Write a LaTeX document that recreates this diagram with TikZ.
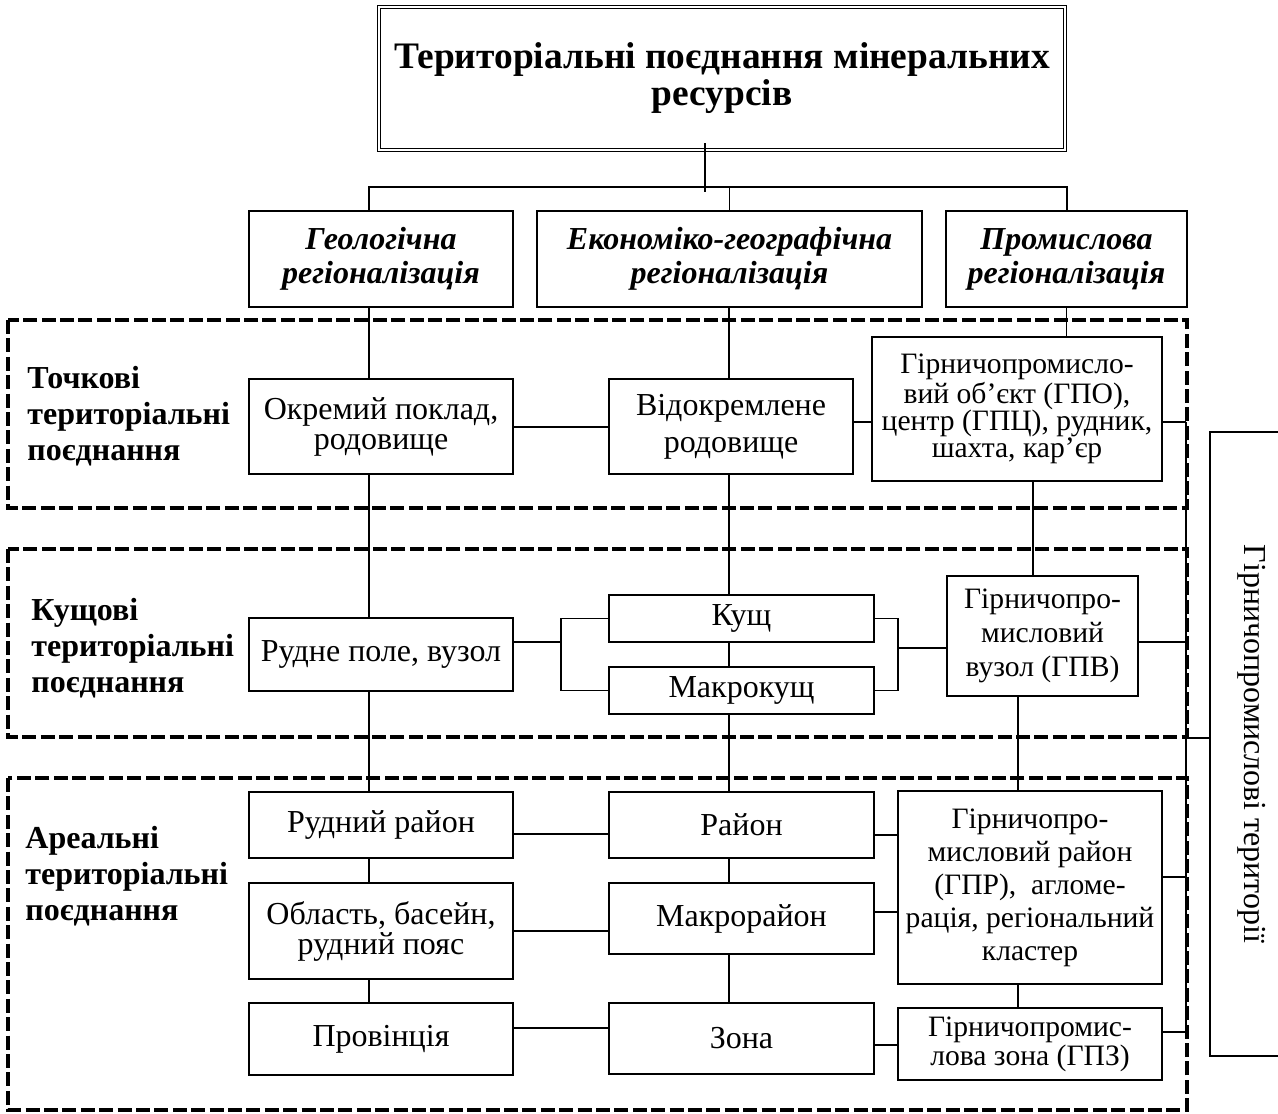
\documentclass[tikz,border=0pt]{standalone}
\usepackage{fontspec}
\setmainfont{Liberation Serif}
\tikzset{
	basenode/.style = {
		align=center,
		inner sep=0pt,
		text centered,
		draw=black,
		fill=white,
		line width=0.6pt
	},
	node_box/.style = {
		basenode,
		font=\fontsize{16}{15}\selectfont
	},
	node_ind/.style = {
		basenode,
		font=\fontsize{14.8}{15}\selectfont
	},
	node_head/.style = {
		basenode,
		font=\fontsize{16}{17}\selectfont\bfseries\itshape
	},
	node_title/.style = {
		basenode,
		double,
		double distance=1.2pt,
		font=\fontsize{18.7}{18.5}\selectfont\bfseries
	},
	node_label/.style = {
		align=left,
		inner sep=0pt,
		anchor=west,
		font=\fontsize{16}{18}\selectfont\bfseries
	},
	group_dash/.style = {
		line width=1.6pt,
		dash pattern=on 7pt off 2.2pt
	},
	link/.style = {
		line width=0.55pt
	}
}

\begin{document}
\begin{tikzpicture}[x=0.5pt, y=-0.5pt]
\useasboundingbox (0,0) rectangle (1278,1113);

% dashed groups
\draw[group_dash] (8,320) rectangle (1187,508);
\draw[group_dash] (8,549) rectangle (1187,737);
\draw[group_dash] (8,778) rectangle (1187,1110);

\node[node_label] (lab_point) at (27,416) {Точкові\\територіальні\\поєднання};
\node[node_label] (lab_bush) at (31,648) {Кущові\\територіальні\\поєднання};
\node[node_label] (lab_area) at (25,876) {Ареальні\\територіальні\\поєднання};

% title and the three regionalisations
\node[node_title, minimum width=343pt, minimum height=71.5pt] (title) at (722,78.5) {Територіальні поєднання мінеральних\\ресурсів};
\node[node_head, minimum width=132pt, minimum height=48pt] (geol) at (381,259) {Геологічна\\регіоналізація};
\node[node_head, minimum width=192.5pt, minimum height=48pt] (econ) at (729.5,259) {Економіко-географічна\\регіоналізація};
\node[node_head, minimum width=120.5pt, minimum height=48pt] (prom) at (1066.5,259) {Промислова\\регіоналізація};

% geological column
\node[node_box, minimum width=132pt, minimum height=47.5pt] (okrem) at (381,426.5) {Окремий поклад,\\родовище};
\node[node_box, minimum width=132pt, minimum height=36.5pt] (rpole) at (381,654.5) {Рудне поле, вузол};
\node[node_box, minimum width=132pt, minimum height=33pt] (rraion) at (381,825) {Рудний район};
\node[node_box, minimum width=132pt, minimum height=48pt] (oblast) at (381,931) {Область, басейн,\\рудний пояс};
\node[node_box, minimum width=132pt, minimum height=36pt] (provin) at (381,1039) {Провінція};

% economic-geographical column
\node[node_box, minimum width=122pt, minimum height=47.5pt, font=\fontsize{16}{18.5}\selectfont] (vidokr) at (731,426.5) {Відокремлене\\родовище};
\node[node_box, minimum width=132.5pt, minimum height=23.5pt] (kushch) at (741.5,618.5) {Кущ};
\node[node_box, minimum width=132.5pt, minimum height=23.5pt] (makrok) at (741.5,690.5) {Макрокущ};
\node[node_box, minimum width=132.5pt, minimum height=33pt] (raion) at (741.5,825) {Район};
\node[node_box, minimum width=132.5pt, minimum height=35.5pt] (makror) at (741.5,918.5) {Макрорайон};
\node[node_box, minimum width=132.5pt, minimum height=35.5pt] (zona) at (741.5,1038.5) {Зона};

% industrial column
\node[node_ind, minimum width=145pt, minimum height=72pt, font=\fontsize{14.8}{13.5}\selectfont] (gpo) at (1017,409) {Гірничопромисло-\\вий об’єкт (ГПО),\\центр (ГПЦ), рудник,\\шахта, кар’єр};
\node[node_ind, minimum width=95.5pt, minimum height=60pt, font=\fontsize{14.8}{17}\selectfont] (gpv) at (1042.5,636) {Гірничопро-\\мисловий\\вузол (ГПВ)};
\node[node_ind, minimum width=132pt, minimum height=96.5pt, font=\fontsize{14.8}{16.5}\selectfont] (gpr) at (1030,887.5) {Гірничопро-\\мисловий район\\(ГПР),~ агломе-\\рація, регіональний\\кластер};
\node[node_ind, minimum width=132pt, minimum height=36pt, font=\fontsize{14.8}{12.5}\selectfont] (gpz) at (1030,1044) {Гірничопромис-\\лова зона (ГПЗ)};

\node[basenode, rotate=-90, minimum width=312pt, minimum height=42pt, font=\fontsize{16}{17}\selectfont] (terr) at (1252,744) {Гірничопромислові території};

% title links
\coordinate (stem_top) at (705,143);
\coordinate (stem_bot) at (705,192);
\coordinate (bus_l) at (369,187);
\coordinate (bus_r) at (1067,187);
\draw[link] (stem_top) -- (stem_bot);
\draw[link] (geol.north -| bus_l) -- (bus_l) -- (bus_r) -- (prom.north -| bus_r);
\draw[link] (econ.north) -- (econ.north |- bus_l);

% columns
\coordinate (col_a) at (369,0);
\coordinate (col_b) at (729,0);
\coordinate (col_c) at (1033,0);
\coordinate (col_d) at (1018,0);
\foreach \u/\v in {geol/okrem, okrem/rpole, rpole/rraion, rraion/oblast, oblast/provin}
	\draw[link] (col_a |- \u.south) -- (col_a |- \v.north);
\foreach \u/\v in {econ/vidokr, vidokr/kushch, kushch/makrok, makrok/raion, raion/makror, makror/zona}
	\draw[link] (col_b |- \u.south) -- (col_b |- \v.north);
\draw[link] (prom.south) -- (prom.south |- gpo.north);
\draw[link] (col_c |- gpo.south) -- (col_c |- gpv.north);
\draw[link] (col_d |- gpv.south) -- (col_d |- gpr.north);
\draw[link] (col_d |- gpr.south) -- (col_d |- gpz.north);

% rows
\foreach \u/\v/\y in {okrem/vidokr/427, vidokr/gpo/422, rraion/raion/834, raion/gpr/835, oblast/makror/931, makror/gpr/912, provin/zona/1028, zona/gpz/1045}
	\draw[link] (\u.east |- 0,\y) -- (\v.west |- 0,\y);

% brackets around the bushes
\coordinate (brk_l) at (561,642);
\coordinate (brk_r) at (898,648);
\draw[link] (rpole.east |- brk_l) -- (brk_l);
\draw[link] (kushch.west) -| (brk_l) |- (makrok.west);
\draw[link] (kushch.east) -| (brk_r) |- (makrok.east);
\draw[link] (brk_r) -- (gpv.west |- brk_r);

% right spine
\coordinate (spine_top) at (1186,422);
\coordinate (spine_bot) at (1186,1032);
\draw[link] (spine_top) -- (spine_bot);
\foreach \u/\y in {gpo/422, gpv/642, gpr/877, gpz/1032}
	\draw[link] (\u.east |- 0,\y) -- (spine_top |- 0,\y);
\draw[link] (spine_top |- 0,738) -- (terr.south |- 0,738);
\end{tikzpicture}
\end{document}
